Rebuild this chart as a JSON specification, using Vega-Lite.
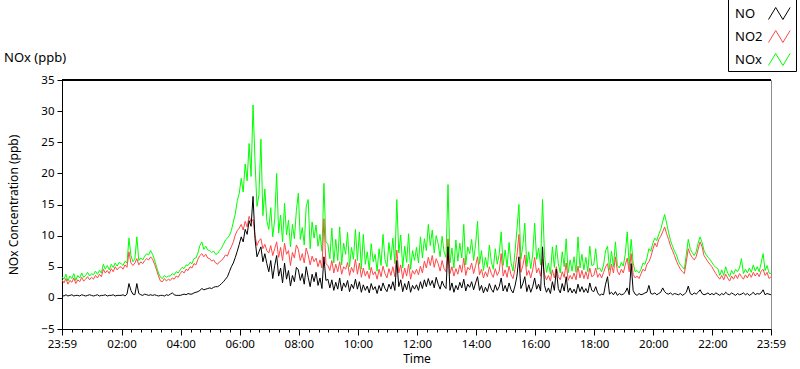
{
  "$schema": "https://vega.github.io/schema/vega-lite/v6.json",
  "width": 709,
  "height": 249,
  "autosize": {"type": "none"},
  "padding": {"left": 62, "top": 80, "right": 29, "bottom": 40},
  "background": "#ffffff",
  "title": {"text": "NOx (ppb)", "anchor": "start", "frame": "group", "dx": -58, "dy": 81, "offset": 14, "font": "Noto Sans", "fontSize": 13, "fontWeight": "normal", "color": "#000000"},
  "config": {
    "view": {"stroke": "#8c8c8c", "strokeWidth": 1},
    "font": "Noto Sans",
    "axis": {"labelFont": "Noto Sans", "labelFontSize": 11.5, "labelColor": "#000", "titleFont": "Noto Sans", "titleFontSize": 12, "titleFontWeight": "normal", "titleColor": "#000", "domainColor": "#000", "tickColor": "#000", "grid": false, "labelOverlap": false},
    "axisY": {"labelOverlap": false, "labelSeparation": 0, "tickSize": 5, "labelPadding": 3, "titlePadding": 20, "tickCount": 9},
    "legend": {"orient": "none", "legendX": 666, "legendY": -82, "padding": 3, "strokeColor": "#000", "fillColor": "#fff", "labelFont": "Noto Sans", "labelFontSize": 13, "labelColor": "#000", "symbolType": "M-1,0.5L-0.4,-0.5L0.2,0.5L0.8,-0.5", "symbolSize": 576, "symbolStrokeWidth": 1, "rowPadding": 2, "labelOffset": -58, "symbolOffset": 37}
  },
  "data": {"values": [
{"t":0,"NO":0.4,"NO2":2.9,"NOx":3.4},{"t":4,"NO":0.3,"NO2":2.4,"NOx":3.0},{"t":8,"NO":0.5,"NO2":3.1,"NOx":3.8},{"t":12,"NO":0.3,"NO2":2.2,"NOx":2.7},{"t":16,"NO":0.4,"NO2":2.8,"NOx":3.5},{"t":20,"NO":0.5,"NO2":2.5,"NOx":3.1},{"t":24,"NO":0.3,"NO2":3.2,"NOx":3.9},{"t":28,"NO":0.4,"NO2":2.3,"NOx":2.8},{"t":32,"NO":0.4,"NO2":2.9,"NOx":3.6},{"t":36,"NO":0.3,"NO2":2.6,"NOx":3.2},{"t":40,"NO":0.5,"NO2":3.3,"NOx":4.0},{"t":44,"NO":0.4,"NO2":2.7,"NOx":3.3},{"t":48,"NO":0.3,"NO2":3.0,"NOx":3.6},{"t":52,"NO":0.4,"NO2":3.4,"NOx":4.1},{"t":56,"NO":0.5,"NO2":2.9,"NOx":3.5},
{"t":60,"NO":0.4,"NO2":3.3,"NOx":3.9},{"t":64,"NO":0.3,"NO2":3.0,"NOx":3.7},{"t":68,"NO":0.4,"NO2":3.6,"NOx":4.3},{"t":72,"NO":0.5,"NO2":3.2,"NOx":3.8},{"t":76,"NO":0.3,"NO2":3.8,"NOx":4.4},{"t":80,"NO":0.4,"NO2":3.4,"NOx":4.0},{"t":84,"NO":0.4,"NO2":4.6,"NOx":5.4},{"t":88,"NO":0.5,"NO2":4.0,"NOx":4.6},{"t":92,"NO":0.3,"NO2":4.4,"NOx":5.2},{"t":96,"NO":0.4,"NO2":3.9,"NOx":4.5},{"t":100,"NO":0.4,"NO2":4.7,"NOx":5.4},{"t":104,"NO":0.5,"NO2":4.2,"NOx":4.9},{"t":108,"NO":0.3,"NO2":5.0,"NOx":5.6},{"t":112,"NO":0.4,"NO2":4.5,"NOx":5.1},{"t":116,"NO":0.4,"NO2":4.9,"NOx":5.7},
{"t":120,"NO":0.4,"NO2":5.0,"NOx":5.5},{"t":124,"NO":0.5,"NO2":4.6,"NOx":5.2},{"t":128,"NO":0.3,"NO2":5.3,"NOx":5.9},{"t":132,"NO":0.6,"NO2":4.9,"NOx":5.6},{"t":136,"NO":2.3,"NO2":7.4,"NOx":9.6},{"t":140,"NO":1.2,"NO2":5.6,"NOx":6.8},{"t":144,"NO":0.6,"NO2":5.2,"NOx":5.8},{"t":148,"NO":0.5,"NO2":5.6,"NOx":6.2},{"t":152,"NO":2.3,"NO2":6.3,"NOx":9.8},{"t":156,"NO":0.7,"NO2":5.3,"NOx":6.0},{"t":160,"NO":0.5,"NO2":5.8,"NOx":6.4},{"t":164,"NO":0.4,"NO2":5.5,"NOx":6.1},{"t":168,"NO":0.6,"NO2":6.0,"NOx":6.7},{"t":172,"NO":0.5,"NO2":6.3,"NOx":7.1},{"t":176,"NO":0.4,"NO2":6.1,"NOx":6.9},
{"t":180,"NO":0.5,"NO2":6.6,"NOx":7.6},{"t":184,"NO":0.4,"NO2":6.2,"NOx":7.0},{"t":188,"NO":0.5,"NO2":5.4,"NOx":6.1},{"t":192,"NO":0.4,"NO2":4.5,"NOx":5.0},{"t":196,"NO":0.3,"NO2":3.5,"NOx":4.0},{"t":200,"NO":0.4,"NO2":2.7,"NOx":3.3},{"t":204,"NO":0.4,"NO2":2.6,"NOx":3.1},{"t":208,"NO":0.3,"NO2":3.1,"NOx":3.6},{"t":212,"NO":0.5,"NO2":2.7,"NOx":3.3},{"t":216,"NO":0.4,"NO2":3.0,"NOx":3.5},{"t":220,"NO":0.6,"NO2":2.8,"NOx":3.5},{"t":224,"NO":0.8,"NO2":3.2,"NOx":3.9},{"t":228,"NO":0.5,"NO2":3.0,"NOx":3.7},{"t":232,"NO":0.4,"NO2":3.5,"NOx":4.2},{"t":236,"NO":0.4,"NO2":3.3,"NOx":4.0},
{"t":240,"NO":0.4,"NO2":3.9,"NOx":4.5},{"t":244,"NO":0.5,"NO2":4.3,"NOx":4.9},{"t":248,"NO":0.6,"NO2":4.0,"NOx":4.7},{"t":252,"NO":0.5,"NO2":4.6,"NOx":5.3},{"t":256,"NO":0.7,"NO2":4.4,"NOx":5.2},{"t":260,"NO":0.6,"NO2":5.0,"NOx":5.7},{"t":264,"NO":0.6,"NO2":4.8,"NOx":5.5},{"t":268,"NO":0.8,"NO2":5.5,"NOx":6.3},{"t":272,"NO":0.9,"NO2":5.3,"NOx":6.4},{"t":276,"NO":1.0,"NO2":6.2,"NOx":7.2},{"t":280,"NO":1.2,"NO2":6.8,"NOx":8.4},{"t":284,"NO":1.5,"NO2":7.1,"NOx":9.0},{"t":288,"NO":1.3,"NO2":6.6,"NOx":7.8},{"t":292,"NO":1.4,"NO2":7.0,"NOx":8.3},{"t":296,"NO":1.5,"NO2":6.4,"NOx":7.7},
{"t":300,"NO":1.6,"NO2":6.3,"NOx":7.6},{"t":304,"NO":1.5,"NO2":5.9,"NOx":7.3},{"t":308,"NO":1.7,"NO2":6.1,"NOx":7.5},{"t":312,"NO":1.8,"NO2":5.6,"NOx":7.0},{"t":316,"NO":1.8,"NO2":5.4,"NOx":7.1},{"t":320,"NO":2.0,"NO2":5.8,"NOx":7.6},{"t":324,"NO":2.3,"NO2":6.0,"NOx":8.0},{"t":328,"NO":2.6,"NO2":6.4,"NOx":8.6},{"t":332,"NO":3.0,"NO2":6.9,"NOx":9.3},{"t":336,"NO":3.4,"NO2":6.7,"NOx":9.6},{"t":340,"NO":4.2,"NO2":7.6,"NOx":10.0},{"t":344,"NO":5.0,"NO2":8.2,"NOx":10.8},{"t":348,"NO":5.6,"NO2":9.0,"NOx":12.2},{"t":352,"NO":6.5,"NO2":10.1,"NOx":13.5},{"t":356,"NO":7.5,"NO2":10.8,"NOx":15.6},
{"t":360,"NO":8.6,"NO2":11.2,"NOx":16.8},{"t":364,"NO":9.8,"NO2":11.8,"NOx":19.2},{"t":368,"NO":9.0,"NO2":10.9,"NOx":17.0},{"t":372,"NO":11.0,"NO2":12.3,"NOx":21.5},{"t":376,"NO":10.2,"NO2":11.4,"NOx":18.8},{"t":380,"NO":12.4,"NO2":13.1,"NOx":24.8},{"t":384,"NO":11.5,"NO2":12.2,"NOx":19.5},{"t":388,"NO":16.3,"NO2":12.6,"NOx":31.0},{"t":392,"NO":9.5,"NO2":10.0,"NOx":22.0},{"t":396,"NO":6.6,"NO2":8.4,"NOx":14.7},{"t":400,"NO":7.4,"NO2":9.2,"NOx":16.5},{"t":404,"NO":8.2,"NO2":9.5,"NOx":25.5},{"t":408,"NO":5.8,"NO2":7.9,"NOx":13.2},{"t":412,"NO":7.1,"NO2":8.6,"NOx":17.5},{"t":416,"NO":5.5,"NO2":7.6,"NOx":12.4},
{"t":420,"NO":4.2,"NO2":7.2,"NOx":11.0},{"t":424,"NO":6.0,"NO2":8.4,"NOx":14.5},{"t":428,"NO":3.1,"NO2":6.8,"NOx":9.8},{"t":432,"NO":5.2,"NO2":7.9,"NOx":12.6},{"t":436,"NO":6.8,"NO2":9.0,"NOx":20.0},{"t":440,"NO":3.5,"NO2":6.5,"NOx":10.4},{"t":444,"NO":4.8,"NO2":8.1,"NOx":13.3},{"t":448,"NO":2.4,"NO2":6.0,"NOx":9.0},{"t":452,"NO":5.6,"NO2":8.8,"NOx":15.2},{"t":456,"NO":3.0,"NO2":7.0,"NOx":10.1},{"t":460,"NO":4.4,"NO2":7.6,"NOx":12.5},{"t":464,"NO":1.9,"NO2":5.2,"NOx":8.2},{"t":468,"NO":3.6,"NO2":7.3,"NOx":11.8},{"t":472,"NO":2.6,"NO2":6.4,"NOx":9.5},{"t":476,"NO":4.9,"NO2":8.5,"NOx":14.0},
{"t":480,"NO":4.5,"NO2":7.8,"NOx":16.8},{"t":484,"NO":2.8,"NO2":6.0,"NOx":9.4},{"t":488,"NO":3.9,"NO2":7.1,"NOx":11.3},{"t":492,"NO":2.2,"NO2":5.6,"NOx":8.5},{"t":496,"NO":5.0,"NO2":8.0,"NOx":14.7},{"t":500,"NO":3.3,"NO2":6.9,"NOx":15.8},{"t":504,"NO":1.8,"NO2":5.3,"NOx":7.9},{"t":508,"NO":3.8,"NO2":6.7,"NOx":12.2},{"t":512,"NO":2.6,"NO2":5.8,"NOx":9.6},{"t":516,"NO":4.1,"NO2":6.4,"NOx":11.7},{"t":520,"NO":2.0,"NO2":5.0,"NOx":8.3},{"t":524,"NO":3.2,"NO2":6.1,"NOx":10.2},{"t":528,"NO":1.5,"NO2":4.8,"NOx":7.5},{"t":532,"NO":6.6,"NO2":12.7,"NOx":18.4},{"t":536,"NO":2.8,"NO2":5.5,"NOx":9.0},
{"t":540,"NO":3.0,"NO2":5.2,"NOx":8.6},{"t":544,"NO":1.6,"NO2":4.4,"NOx":6.3},{"t":548,"NO":2.9,"NO2":6.0,"NOx":11.2},{"t":552,"NO":1.2,"NO2":4.0,"NOx":5.6},{"t":556,"NO":2.5,"NO2":5.4,"NOx":9.4},{"t":560,"NO":1.4,"NO2":4.2,"NOx":6.0},{"t":564,"NO":3.2,"NO2":5.8,"NOx":11.4},{"t":568,"NO":1.1,"NO2":3.8,"NOx":5.3},{"t":572,"NO":2.4,"NO2":5.0,"NOx":8.8},{"t":576,"NO":1.7,"NO2":4.6,"NOx":7.0},{"t":580,"NO":2.8,"NO2":5.7,"NOx":10.5},{"t":584,"NO":1.0,"NO2":3.6,"NOx":5.0},{"t":588,"NO":2.2,"NO2":4.9,"NOx":8.1},{"t":592,"NO":1.5,"NO2":4.1,"NOx":6.2},{"t":596,"NO":3.0,"NO2":6.2,"NOx":11.0},
{"t":600,"NO":1.4,"NO2":3.8,"NOx":6.0},{"t":604,"NO":2.6,"NO2":5.6,"NOx":10.6},{"t":608,"NO":0.9,"NO2":3.3,"NOx":4.6},{"t":612,"NO":2.1,"NO2":4.8,"NOx":10.2},{"t":616,"NO":1.2,"NO2":3.5,"NOx":5.4},{"t":620,"NO":1.9,"NO2":4.3,"NOx":7.4},{"t":624,"NO":0.8,"NO2":3.1,"NOx":4.5},{"t":628,"NO":2.3,"NO2":4.9,"NOx":8.7},{"t":632,"NO":1.3,"NO2":3.7,"NOx":5.8},{"t":636,"NO":1.8,"NO2":4.2,"NOx":7.0},{"t":640,"NO":0.7,"NO2":3.0,"NOx":4.3},{"t":644,"NO":2.0,"NO2":4.6,"NOx":7.9},{"t":648,"NO":1.1,"NO2":3.4,"NOx":5.2},{"t":652,"NO":2.4,"NO2":5.1,"NOx":10.2},{"t":656,"NO":1.5,"NO2":3.9,"NOx":6.1},
{"t":660,"NO":1.0,"NO2":3.2,"NOx":5.0},{"t":664,"NO":2.2,"NO2":4.7,"NOx":8.9},{"t":668,"NO":1.4,"NO2":3.6,"NOx":6.1},{"t":672,"NO":2.6,"NO2":5.0,"NOx":9.6},{"t":676,"NO":1.2,"NO2":3.4,"NOx":5.5},{"t":680,"NO":6.0,"NO2":7.7,"NOx":15.8},{"t":684,"NO":1.8,"NO2":4.0,"NOx":7.2},{"t":688,"NO":2.9,"NO2":5.3,"NOx":10.1},{"t":692,"NO":1.0,"NO2":3.1,"NOx":4.8},{"t":696,"NO":2.3,"NO2":4.8,"NOx":8.3},{"t":700,"NO":1.3,"NO2":3.5,"NOx":5.7},{"t":704,"NO":2.7,"NO2":5.4,"NOx":10.3},{"t":708,"NO":0.9,"NO2":3.0,"NOx":4.6},{"t":712,"NO":2.0,"NO2":4.4,"NOx":7.6},{"t":716,"NO":1.4,"NO2":3.8,"NOx":6.0},
{"t":720,"NO":2.1,"NO2":4.6,"NOx":8.1},{"t":724,"NO":1.2,"NO2":3.7,"NOx":5.6},{"t":728,"NO":2.6,"NO2":5.1,"NOx":9.8},{"t":732,"NO":1.5,"NO2":4.0,"NOx":6.4},{"t":736,"NO":2.9,"NO2":5.9,"NOx":9.5},{"t":740,"NO":1.8,"NO2":4.8,"NOx":7.6},{"t":744,"NO":3.1,"NO2":6.5,"NOx":11.8},{"t":748,"NO":2.0,"NO2":5.2,"NOx":8.4},{"t":752,"NO":2.8,"NO2":6.8,"NOx":10.9},{"t":756,"NO":1.6,"NO2":4.9,"NOx":7.2},{"t":760,"NO":3.3,"NO2":6.3,"NOx":10.0},{"t":764,"NO":2.2,"NO2":5.5,"NOx":8.7},{"t":768,"NO":1.4,"NO2":4.3,"NOx":6.6},{"t":772,"NO":2.7,"NO2":6.0,"NOx":9.9},{"t":776,"NO":1.9,"NO2":4.7,"NOx":7.4},
{"t":780,"NO":1.5,"NO2":4.2,"NOx":6.5},{"t":784,"NO":8.2,"NO2":9.5,"NOx":18.2},{"t":788,"NO":1.2,"NO2":3.9,"NOx":5.6},{"t":792,"NO":2.4,"NO2":5.0,"NOx":8.0},{"t":796,"NO":0.9,"NO2":3.5,"NOx":4.8},{"t":800,"NO":2.0,"NO2":4.7,"NOx":9.3},{"t":804,"NO":1.3,"NO2":3.8,"NOx":5.9},{"t":808,"NO":2.5,"NO2":5.3,"NOx":8.8},{"t":812,"NO":1.6,"NO2":4.1,"NOx":6.4},{"t":816,"NO":3.0,"NO2":6.4,"NOx":11.8},{"t":820,"NO":1.1,"NO2":3.6,"NOx":5.3},{"t":824,"NO":2.2,"NO2":4.9,"NOx":8.2},{"t":828,"NO":1.7,"NO2":4.5,"NOx":7.1},{"t":832,"NO":2.6,"NO2":5.6,"NOx":9.4},{"t":836,"NO":1.3,"NO2":3.9,"NOx":6.0},
{"t":840,"NO":2.4,"NO2":5.2,"NOx":8.6},{"t":844,"NO":3.4,"NO2":6.6,"NOx":12.3},{"t":848,"NO":1.2,"NO2":3.7,"NOx":5.4},{"t":852,"NO":2.0,"NO2":4.6,"NOx":7.6},{"t":856,"NO":0.8,"NO2":3.2,"NOx":4.4},{"t":860,"NO":1.7,"NO2":4.2,"NOx":6.5},{"t":864,"NO":1.0,"NO2":3.4,"NOx":4.9},{"t":868,"NO":2.3,"NO2":5.0,"NOx":8.5},{"t":872,"NO":1.4,"NO2":3.9,"NOx":5.8},{"t":876,"NO":0.9,"NO2":3.3,"NOx":4.6},{"t":880,"NO":2.1,"NO2":4.7,"NOx":7.9},{"t":884,"NO":1.2,"NO2":3.6,"NOx":5.4},{"t":888,"NO":1.8,"NO2":4.3,"NOx":7.0},{"t":892,"NO":3.2,"NO2":7.1,"NOx":10.6},{"t":896,"NO":1.1,"NO2":3.5,"NOx":5.2},
{"t":900,"NO":2.0,"NO2":4.5,"NOx":7.7},{"t":904,"NO":1.0,"NO2":3.3,"NOx":4.9},{"t":908,"NO":2.4,"NO2":5.1,"NOx":8.9},{"t":912,"NO":1.3,"NO2":3.7,"NOx":5.6},{"t":916,"NO":0.8,"NO2":3.1,"NOx":4.3},{"t":920,"NO":1.9,"NO2":4.6,"NOx":7.3},{"t":924,"NO":3.5,"NO2":6.8,"NOx":11.0},{"t":928,"NO":6.6,"NO2":10.2,"NOx":15.0},{"t":932,"NO":1.5,"NO2":4.1,"NOx":6.2},{"t":936,"NO":2.3,"NO2":5.2,"NOx":8.4},{"t":940,"NO":3.4,"NO2":6.9,"NOx":12.0},{"t":944,"NO":1.0,"NO2":3.6,"NOx":5.0},{"t":948,"NO":2.1,"NO2":4.4,"NOx":7.4},{"t":952,"NO":0.9,"NO2":3.2,"NOx":4.7},{"t":956,"NO":1.8,"NO2":4.5,"NOx":6.9},
{"t":960,"NO":3.2,"NO2":6.5,"NOx":12.0},{"t":964,"NO":1.4,"NO2":4.0,"NOx":6.2},{"t":968,"NO":2.2,"NO2":4.8,"NOx":8.0},{"t":972,"NO":1.1,"NO2":3.5,"NOx":5.3},{"t":976,"NO":8.2,"NO2":6.2,"NOx":15.8},{"t":980,"NO":2.0,"NO2":3.8,"NOx":6.8},{"t":984,"NO":0.9,"NO2":2.9,"NOx":4.1},{"t":988,"NO":1.6,"NO2":3.6,"NOx":5.6},{"t":992,"NO":0.7,"NO2":2.7,"NOx":3.8},{"t":996,"NO":2.6,"NO2":4.5,"NOx":8.2},{"t":1000,"NO":1.2,"NO2":3.2,"NOx":4.9},{"t":1004,"NO":4.6,"NO2":5.0,"NOx":8.5},{"t":1008,"NO":1.5,"NO2":3.4,"NOx":5.5},{"t":1012,"NO":0.8,"NO2":2.9,"NOx":4.0},{"t":1016,"NO":2.3,"NO2":4.2,"NOx":7.4},
{"t":1020,"NO":1.1,"NO2":3.3,"NOx":5.0},{"t":1024,"NO":3.4,"NO2":5.6,"NOx":9.5},{"t":1028,"NO":0.9,"NO2":2.8,"NOx":4.0},{"t":1032,"NO":1.6,"NO2":3.6,"NOx":6.1},{"t":1036,"NO":0.8,"NO2":3.0,"NOx":4.3},{"t":1040,"NO":1.4,"NO2":4.0,"NOx":6.6},{"t":1044,"NO":0.7,"NO2":2.9,"NOx":4.1},{"t":1048,"NO":2.2,"NO2":5.1,"NOx":9.8},{"t":1052,"NO":1.0,"NO2":3.2,"NOx":4.8},{"t":1056,"NO":1.8,"NO2":4.4,"NOx":7.0},{"t":1060,"NO":0.9,"NO2":3.1,"NOx":4.5},{"t":1064,"NO":1.5,"NO2":4.2,"NOx":6.5},{"t":1068,"NO":0.8,"NO2":3.0,"NOx":4.2},{"t":1072,"NO":2.4,"NO2":4.8,"NOx":8.3},{"t":1076,"NO":1.2,"NO2":3.4,"NOx":5.2},
{"t":1080,"NO":1.0,"NO2":3.6,"NOx":5.3},{"t":1084,"NO":1.8,"NO2":4.8,"NOx":7.9},{"t":1088,"NO":0.8,"NO2":3.3,"NOx":4.6},{"t":1092,"NO":0.4,"NO2":3.9,"NOx":4.8},{"t":1096,"NO":0.6,"NO2":3.2,"NOx":4.2},{"t":1100,"NO":0.5,"NO2":4.1,"NOx":5.3},{"t":1104,"NO":2.2,"NO2":5.0,"NOx":7.6},{"t":1108,"NO":3.4,"NO2":5.5,"NOx":8.3},{"t":1112,"NO":0.6,"NO2":3.5,"NOx":4.5},{"t":1116,"NO":0.9,"NO2":5.4,"NOx":7.5},{"t":1120,"NO":0.5,"NO2":4.0,"NOx":5.0},{"t":1124,"NO":1.0,"NO2":6.6,"NOx":9.0},{"t":1128,"NO":0.4,"NO2":4.3,"NOx":5.2},{"t":1132,"NO":0.7,"NO2":3.7,"NOx":4.8},{"t":1136,"NO":0.5,"NO2":4.6,"NOx":5.7},
{"t":1140,"NO":0.6,"NO2":4.0,"NOx":5.1},{"t":1144,"NO":0.9,"NO2":5.3,"NOx":7.0},{"t":1148,"NO":1.6,"NO2":6.4,"NOx":10.6},{"t":1152,"NO":0.5,"NO2":4.2,"NOx":5.2},{"t":1156,"NO":5.5,"NO2":7.1,"NOx":9.4},{"t":1160,"NO":1.2,"NO2":3.8,"NOx":5.6},{"t":1164,"NO":0.6,"NO2":3.2,"NOx":4.2},{"t":1168,"NO":0.4,"NO2":3.5,"NOx":4.4},{"t":1172,"NO":0.7,"NO2":3.1,"NOx":4.0},{"t":1176,"NO":0.5,"NO2":3.9,"NOx":4.6},{"t":1180,"NO":0.6,"NO2":4.6,"NOx":5.6},{"t":1184,"NO":0.8,"NO2":4.3,"NOx":5.4},{"t":1188,"NO":0.9,"NO2":5.4,"NOx":6.4},{"t":1192,"NO":2.0,"NO2":5.8,"NOx":7.9},{"t":1196,"NO":0.7,"NO2":6.6,"NOx":7.5},
{"t":1200,"NO":0.6,"NO2":7.8,"NOx":8.8},{"t":1204,"NO":0.8,"NO2":8.8,"NOx":9.6},{"t":1208,"NO":0.5,"NO2":8.2,"NOx":9.2},{"t":1212,"NO":0.7,"NO2":9.4,"NOx":10.2},{"t":1216,"NO":0.9,"NO2":9.9,"NOx":11.0},{"t":1220,"NO":1.6,"NO2":10.6,"NOx":12.2},{"t":1224,"NO":1.0,"NO2":11.4,"NOx":13.4},{"t":1228,"NO":0.7,"NO2":10.3,"NOx":12.0},{"t":1232,"NO":0.6,"NO2":9.4,"NOx":10.5},{"t":1236,"NO":0.8,"NO2":8.3,"NOx":9.2},{"t":1240,"NO":0.5,"NO2":7.6,"NOx":8.3},{"t":1244,"NO":0.7,"NO2":6.8,"NOx":7.5},{"t":1248,"NO":0.6,"NO2":5.9,"NOx":6.9},{"t":1252,"NO":0.5,"NO2":5.2,"NOx":5.9},{"t":1256,"NO":0.7,"NO2":4.6,"NOx":5.3},
{"t":1260,"NO":0.4,"NO2":4.2,"NOx":5.0},{"t":1264,"NO":0.6,"NO2":3.9,"NOx":4.6},{"t":1268,"NO":0.9,"NO2":5.8,"NOx":7.0},{"t":1272,"NO":1.9,"NO2":7.9,"NOx":9.4},{"t":1276,"NO":0.7,"NO2":7.0,"NOx":7.8},{"t":1280,"NO":0.5,"NO2":6.5,"NOx":7.3},{"t":1284,"NO":0.8,"NO2":6.1,"NOx":6.8},{"t":1288,"NO":0.6,"NO2":6.6,"NOx":7.4},{"t":1292,"NO":0.9,"NO2":7.8,"NOx":8.8},{"t":1296,"NO":1.3,"NO2":9.0,"NOx":9.8},{"t":1300,"NO":0.7,"NO2":8.2,"NOx":8.9},{"t":1304,"NO":0.5,"NO2":6.8,"NOx":7.6},{"t":1308,"NO":0.6,"NO2":6.3,"NOx":7.0},{"t":1312,"NO":0.8,"NO2":5.8,"NOx":6.5},{"t":1316,"NO":0.5,"NO2":5.4,"NOx":6.2},
{"t":1320,"NO":0.7,"NO2":5.0,"NOx":5.7},{"t":1324,"NO":0.5,"NO2":4.4,"NOx":5.2},{"t":1328,"NO":0.8,"NO2":3.9,"NOx":4.9},{"t":1332,"NO":0.6,"NO2":3.4,"NOx":4.7},{"t":1336,"NO":0.4,"NO2":3.0,"NOx":3.6},{"t":1340,"NO":0.7,"NO2":3.6,"NOx":4.5},{"t":1344,"NO":0.5,"NO2":2.9,"NOx":3.6},{"t":1348,"NO":0.9,"NO2":3.8,"NOx":5.0},{"t":1352,"NO":0.6,"NO2":3.2,"NOx":4.0},{"t":1356,"NO":0.5,"NO2":2.7,"NOx":3.4},{"t":1360,"NO":0.8,"NO2":3.5,"NOx":4.4},{"t":1364,"NO":0.6,"NO2":3.0,"NOx":3.8},{"t":1368,"NO":0.4,"NO2":3.7,"NOx":4.6},{"t":1372,"NO":0.7,"NO2":3.1,"NOx":4.2},{"t":1376,"NO":0.5,"NO2":3.9,"NOx":4.8},
{"t":1380,"NO":0.6,"NO2":3.4,"NOx":6.3},{"t":1384,"NO":0.8,"NO2":3.0,"NOx":3.9},{"t":1388,"NO":0.5,"NO2":3.7,"NOx":4.6},{"t":1392,"NO":0.7,"NO2":3.2,"NOx":4.0},{"t":1396,"NO":0.4,"NO2":3.9,"NOx":4.8},{"t":1400,"NO":0.6,"NO2":3.3,"NOx":4.1},{"t":1404,"NO":0.9,"NO2":4.1,"NOx":5.3},{"t":1408,"NO":0.5,"NO2":3.5,"NOx":4.3},{"t":1412,"NO":0.7,"NO2":4.0,"NOx":5.0},{"t":1416,"NO":0.6,"NO2":3.4,"NOx":4.2},{"t":1420,"NO":0.8,"NO2":4.3,"NOx":5.6},{"t":1424,"NO":1.3,"NO2":4.6,"NOx":7.1},{"t":1428,"NO":0.5,"NO2":3.6,"NOx":4.4},{"t":1432,"NO":0.7,"NO2":4.1,"NOx":5.2},{"t":1436,"NO":0.6,"NO2":3.1,"NOx":4.0},{"t":1440,"NO":0.5,"NO2":3.4,"NOx":3.9}
  ]},
  "encoding": {
    "x": {"field": "t", "type": "quantitative", "title": "Time",
      "scale": {"domain": [0, 1440], "nice": false, "zero": false},
      "axis": {"values": [0,21,41,61,81,101,121,141,161,181,201,221,241,261,281,301,321,341,361,381,401,421,441,461,481,501,521,541,561,581,601,621,641,661,681,701,721,741,761,781,801,821,841,861,881,901,921,941,961,981,1001,1021,1041,1061,1081,1101,1121,1141,1161,1181,1201,1221,1241,1261,1281,1301,1321,1341,1361,1381,1401,1421,1440],
        "labelExpr": "datum.value == 0 || datum.value == 1440 ? '23:59' : ((datum.value - 1) % 120 == 0 ? (datum.value < 601 ? '0' : '') + ((datum.value - 1) / 60) + ':00' : '')",
        "labelOverlap": false, "labelFlush": false, "labelPadding": 3, "titlePadding": 4,
        "tickSize": {"condition": {"test": "datum.value == 0 || datum.value == 1440 || (datum.value - 1) % 120 == 0", "value": 6}, "value": 3}}
    }
  },
  "layer": [
    {"mark": {"type": "line", "strokeWidth": 1},
     "encoding": {
       "y": {"field": "NOx", "type": "quantitative", "title": "NOx Concentration (ppb)", "scale": {"domain": [-5, 35], "nice": false}, "axis": {"tickCount": 9, "labelOverlap": false, "labelExpr": "format(datum.value, 'd')"}},
       "color": {"datum": "NOx", "scale": {"domain": ["NO", "NO2", "NOx"], "range": ["#000000", "#ff4848", "#00ff00"]}, "legend": {"title": null}}}},
    {"mark": {"type": "line", "strokeWidth": 1},
     "encoding": {"y": {"field": "NO2", "type": "quantitative", "title": "NOx Concentration (ppb)", "axis": {"tickCount": 9, "labelOverlap": false, "labelExpr": "format(datum.value, 'd')"}}, "color": {"datum": "NO2"}}},
    {"mark": {"type": "line", "strokeWidth": 1},
     "encoding": {"y": {"field": "NO", "type": "quantitative", "title": "NOx Concentration (ppb)", "axis": {"tickCount": 9, "labelOverlap": false, "labelExpr": "format(datum.value, 'd')"}}, "color": {"datum": "NO"}}},
    {"mark": {"type": "rule", "color": "#000000", "strokeWidth": 1},
     "encoding": {"x": {"datum": 0}, "x2": {"datum": 1440}, "y": {"datum": 35}}}
  ]
}
